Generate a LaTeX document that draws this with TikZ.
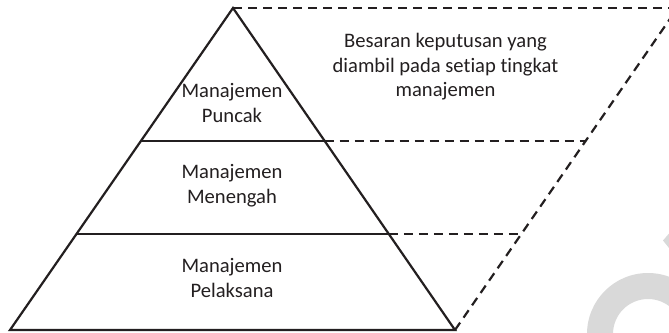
\documentclass[tikz,border=0pt]{standalone}
\usepackage{fontspec}
\setmainfont[Ligatures=NoCommon]{Carlito}
\usetikzlibrary{calc}
\definecolor{ink}{HTML}{231F20}
\definecolor{markgray}{HTML}{D9D9D9}
\begin{document}
\begin{tikzpicture}[x=1pt,y=-1pt,
  level/.style={draw=ink, line width=2.2pt},
  guide/.style={draw=ink, line width=2.2pt, dash pattern=on 9pt off 6pt},
  label/.style={font=\fontsize{20.6}{24.5}\selectfont, align=center, text=ink, inner sep=0pt}]
\useasboundingbox (0,0) rectangle (669,332);
\clip (0,0) rectangle (669,332);

% light ring and wedge in the lower right corner
\fill[markgray, even odd rule] (648,334) circle (61pt) (648,334) circle (35pt);
\fill[markgray] (663,240.5) -- (669,233.5) -- (669,248) -- cycle;

% pyramid corners and the parallel guide edge
\coordinate (apex) at (233,8);
\coordinate (bl) at (10,330);
\coordinate (br) at (455,330);
\coordinate (tr) at (677.5,8);

% level boundaries on both sides
\coordinate (l1) at ($(bl)!0.587!(apex)$);
\coordinate (r1) at ($(br)!0.587!(apex)$);
\coordinate (l2) at ($(bl)!0.298!(apex)$);
\coordinate (r2) at ($(br)!0.298!(apex)$);
\coordinate (g1) at ($(br)!0.587!(tr)$);
\coordinate (g2) at ($(br)!0.298!(tr)$);

% dashed decision-size parallelogram
\draw[guide] (apex) -- (tr);
\draw[guide] (br) -- (tr);
\draw[guide] (r1) -- (g1);
\draw[guide] (r2) -- (g2);

% pyramid
\draw[level, line join=miter] (bl) -- (apex) -- (br) -- cycle;
\draw[level] (l1) -- (r1);
\draw[level] (l2) -- (r2);

% labels
\node[label] (puncak) at (232,103) {Manajemen\\Puncak};
\node[label] (menengah) at (232,185.5) {Manajemen\\Menengah};
\node[label] (pelaksana) at (232,278) {Manajemen\\Pelaksana};
\node[label] (besaran) at (445.5,67) {Besaran keputusan yang\\diambil pada setiap tingkat\\manajemen};
\end{tikzpicture}
\end{document}
